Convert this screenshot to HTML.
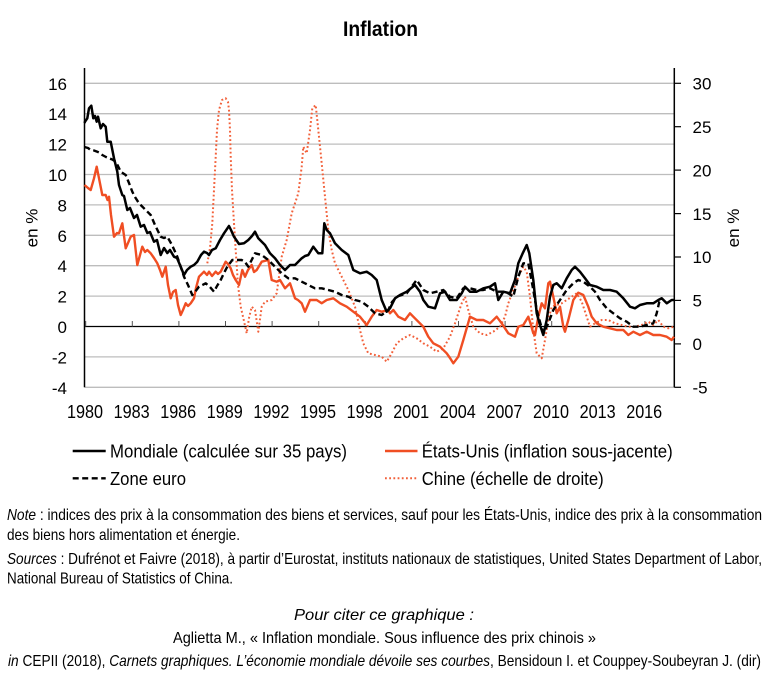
<!DOCTYPE html>
<html>
<head>
<meta charset="utf-8">
<style>
html,body{margin:0;padding:0;background:#fff;}
body{width:767px;height:687px;overflow:hidden;}
svg{display:block;}
text{font-family:"Liberation Sans",Arial,sans-serif;fill:#000;}
</style>
</head>
<body>
<svg width="767" height="687" viewBox="0 0 767 687" xmlns="http://www.w3.org/2000/svg">
<rect width="767" height="687" fill="#fff"/>

<!-- Title -->
<text x="343" y="36" font-size="21" font-weight="bold" textLength="75" lengthAdjust="spacingAndGlyphs">Inflation</text>

<!-- gridlines -->
<g stroke="#bdbdbd" stroke-width="1.3">
<line x1="84.5" y1="83.3" x2="674.3" y2="83.3"/>
<line x1="84.5" y1="113.7" x2="674.3" y2="113.7"/>
<line x1="84.5" y1="144.1" x2="674.3" y2="144.1"/>
<line x1="84.5" y1="174.5" x2="674.3" y2="174.5"/>
<line x1="84.5" y1="204.9" x2="674.3" y2="204.9"/>
<line x1="84.5" y1="235.3" x2="674.3" y2="235.3"/>
<line x1="84.5" y1="265.7" x2="674.3" y2="265.7"/>
<line x1="84.5" y1="296.1" x2="674.3" y2="296.1"/>
<line x1="84.5" y1="356.9" x2="674.3" y2="356.9"/>
<line x1="84.5" y1="387.3" x2="674.3" y2="387.3"/>
</g>

<!-- zero line -->
<line x1="84.5" y1="326.5" x2="674.3" y2="326.5" stroke="#000" stroke-width="1.2"/>
<g stroke="#555" stroke-width="1">
<line x1="85.7" y1="321" x2="85.7" y2="326.5"/>
<line x1="132.3" y1="321" x2="132.3" y2="326.5"/>
<line x1="178.9" y1="321" x2="178.9" y2="326.5"/>
<line x1="225.5" y1="321" x2="225.5" y2="326.5"/>
<line x1="272.1" y1="321" x2="272.1" y2="326.5"/>
<line x1="318.7" y1="321" x2="318.7" y2="326.5"/>
<line x1="365.3" y1="321" x2="365.3" y2="326.5"/>
<line x1="411.9" y1="321" x2="411.9" y2="326.5"/>
<line x1="458.5" y1="321" x2="458.5" y2="326.5"/>
<line x1="505.1" y1="321" x2="505.1" y2="326.5"/>
<line x1="551.7" y1="321" x2="551.7" y2="326.5"/>
<line x1="598.3" y1="321" x2="598.3" y2="326.5"/>
<line x1="644.9" y1="321" x2="644.9" y2="326.5"/>
</g>

<!-- axes -->
<line x1="84.5" y1="68" x2="84.5" y2="387.3" stroke="#000" stroke-width="1.5"/>
<line x1="674.3" y1="68" x2="674.3" y2="387.3" stroke="#000" stroke-width="1.5"/>
<g stroke="#000" stroke-width="1.2">
<line x1="674.3" y1="83.3" x2="681" y2="83.3"/>
<line x1="674.3" y1="126.7" x2="681" y2="126.7"/>
<line x1="674.3" y1="170.1" x2="681" y2="170.1"/>
<line x1="674.3" y1="213.6" x2="681" y2="213.6"/>
<line x1="674.3" y1="257.0" x2="681" y2="257.0"/>
<line x1="674.3" y1="300.4" x2="681" y2="300.4"/>
<line x1="674.3" y1="343.9" x2="681" y2="343.9"/>
<line x1="674.3" y1="387.3" x2="681" y2="387.3"/>
</g>

<!-- left tick labels -->
<g font-size="17" text-anchor="end">
<text x="67" y="89.8">16</text>
<text x="67" y="120.2">14</text>
<text x="67" y="150.6">12</text>
<text x="67" y="181.0">10</text>
<text x="67" y="211.4">8</text>
<text x="67" y="241.8">6</text>
<text x="67" y="272.2">4</text>
<text x="67" y="302.6">2</text>
<text x="67" y="333.0">0</text>
<text x="67" y="363.4">-2</text>
<text x="67" y="393.8">-4</text>
</g>
<!-- right tick labels -->
<g font-size="17">
<text x="692.5" y="89.5">30</text>
<text x="692.5" y="132.9">25</text>
<text x="692.5" y="176.3">20</text>
<text x="692.5" y="219.8">15</text>
<text x="692.5" y="263.2">10</text>
<text x="692.5" y="306.6">5</text>
<text x="692.5" y="350.1">0</text>
<text x="692.5" y="393.5">-5</text>
</g>

<!-- axis titles -->
<text transform="translate(37.5,228) rotate(-90)" font-size="17" text-anchor="middle">en %</text>
<text transform="translate(739,228) rotate(-90)" font-size="17" text-anchor="middle">en %</text>

<!-- year labels -->
<g font-size="18" text-anchor="middle">
<text x="85" y="418" textLength="36" lengthAdjust="spacingAndGlyphs">1980</text>
<text x="131.6" y="418" textLength="36" lengthAdjust="spacingAndGlyphs">1983</text>
<text x="178.2" y="418" textLength="36" lengthAdjust="spacingAndGlyphs">1986</text>
<text x="224.8" y="418" textLength="36" lengthAdjust="spacingAndGlyphs">1989</text>
<text x="271.4" y="418" textLength="36" lengthAdjust="spacingAndGlyphs">1992</text>
<text x="318" y="418" textLength="36" lengthAdjust="spacingAndGlyphs">1995</text>
<text x="364.6" y="418" textLength="36" lengthAdjust="spacingAndGlyphs">1998</text>
<text x="411.2" y="418" textLength="36" lengthAdjust="spacingAndGlyphs">2001</text>
<text x="457.8" y="418" textLength="36" lengthAdjust="spacingAndGlyphs">2004</text>
<text x="504.4" y="418" textLength="36" lengthAdjust="spacingAndGlyphs">2007</text>
<text x="551" y="418" textLength="36" lengthAdjust="spacingAndGlyphs">2010</text>
<text x="597.6" y="418" textLength="36" lengthAdjust="spacingAndGlyphs">2013</text>
<text x="644.2" y="418" textLength="36" lengthAdjust="spacingAndGlyphs">2016</text>
</g>

<!-- China dotted (right axis) -->
<polyline fill="none" stroke="#f2603a" stroke-width="2" stroke-dasharray="1.8,2.4" stroke-linejoin="round"
points="207.3,263.3 210,248 212.3,223.3 214,190 215.7,156.7 217,130 219,110 222,100 225.7,98.3 228,102 229,110 230,130 230.7,156.7 232,190 234,223.3 236,255 238,285 240.7,306.7 243.3,318 246.7,333.3 249,318 251.7,306.7 255,310 258.3,331.7 261.7,306.7 265,301.7 271.7,300 276.7,293.3 281.7,256.7 286.7,240 291.7,213.3 295,203.3 298.3,193.3 301.7,166.7 303.3,146.7 306.7,153.3 310,130 312.3,108.3 315.7,105 318.3,130 321.7,163.3 325,196.7 328.3,230 331.7,250 335,263.3 341.7,276.7 348.3,290 355,306.7 360,330 363.3,343.3 368.3,353.3 375,355 381.7,356.7 386.7,361.7 391.7,353.3 396.7,343.3 403.3,338.3 410,335 416.7,338.3 423.3,343.3 430,346.7 436.7,351.7 443.3,348.3 450,336.7 455,323.3 458.3,313.3 461.7,303.3 465,296.7 468.3,310 473.3,326.7 480,333.3 486.7,335 493.3,331.7 500,326.7 505,316.7 508.3,303.3 513.3,290 518.3,276.7 523.3,266.7 526.7,271.7 530,296.7 533.3,330 536.7,353.3 541.7,358.3 545,340 548.3,320 551.7,306.7 556.7,305 561.7,303.3 566.7,300 571.7,296.7 576.7,293.3 581.7,301.7 586.7,316.7 590,326.7 595,323.3 601.7,320 608.3,320 615,323.3 621.7,325 628.3,326.7 635,326.7 641.7,325 648.3,321.7 653.3,325 658.3,320 663.3,326.7 668.3,328.3 674,326.7"/>

<!-- US solid red -->
<polyline fill="none" stroke="#f04e23" stroke-width="2.4" stroke-linejoin="round"
points="84.5,185 88,188 90.7,190 94,178.3 96.7,166.7 99,178.3 102.3,195 105.7,195 107.5,200 109,196.7 111,215 114,236.7 117,233 119,233.3 122.3,223.3 125.7,248.3 128,243 130.7,236.7 134,235 137.3,265 140,255 142.3,246.7 145,252 147.3,250 150.7,253.3 154,258 157.3,263.3 160,270 162.3,276.7 165.7,266.7 168,285 170.7,298.3 173,292 175.7,290 178,305 180.7,315 183,310 185.7,303.3 188,306 190.7,303.3 194,298.3 196,288 199,276.7 204,271.7 207,275 209,271.7 212,276 215.7,271.7 218,274 220.7,271.7 225.7,261.7 228,264 230.7,268.3 233,275 235.7,280 239,285 242.3,270 245,276.7 248,270 251.7,265 254,272 256.7,270 261.7,261.7 268.3,260 271.7,280 276.7,281.7 280,280 285,288.3 290,283.3 295,298.3 298,300 301.7,303.3 305,311.7 310,300 316.7,300 321.7,303.3 326.7,300 333.3,298.3 340,303.3 346.7,306.7 353.3,311.7 360,316.7 366.7,325 371.7,316.7 376.7,310 381.7,311.7 388.3,310 390,313.3 393.3,310 398.3,316.7 405,320 410,313.3 413.3,316.7 418.3,321.7 423.3,326.7 428.3,336.7 433.3,343.3 440,346.7 446.7,353.3 450,358 453.3,363.3 458.3,356.7 463.3,340 470,316.7 476.7,320 483.3,320 490,323.3 496.7,316.7 501.7,323.3 508.3,333.3 515,336.7 518.3,326.7 523.3,325 528.3,316.7 531,325 533.3,333.3 535,335 538.3,316.7 541.7,303.3 545,308.3 548.3,283.3 550,281.7 553.3,296.7 556.7,313.3 560,306.7 563.3,326.7 565,331.7 568.3,320 573.3,300 578.3,292.7 583.3,295 588.3,306.7 591.7,316.7 596.7,323.3 603.3,326.7 610,328.3 616.7,330 623.3,330 628.3,335 633.3,331.7 640,335 646.7,331.7 653.3,335 660,335 666.7,336.7 671.7,340 674,336.7"/>

<!-- Zone euro dashed -->
<polyline fill="none" stroke="#000" stroke-width="2.4" stroke-dasharray="6,3.5" stroke-linejoin="round"
points="84.5,147 88,148 90.7,150 94,150.5 97.3,151.7 100,153 102.3,155 106,157 109,158.3 112.3,159.5 115.7,161.7 118,166 120.7,171.7 125.7,175 129,183 132.3,191.7 135,197 139,203.3 144,208.3 150.7,215 155,225 160.7,236.7 164,238 167.3,236.7 172,245 177.3,256.7 184,276.7 188,285 192.3,295 195,292 199,286.7 205.7,283.3 210,287 214,291.7 217,286 220.7,280 224,273 227.3,266.7 232.3,260 236,260 241.7,260 245,262 248.3,266.7 255,253.3 261.7,255 268.3,260 275,266.7 281.7,273.3 288.3,278.3 295,278.3 301.7,281.7 308.3,285 315,288.3 321.7,288.3 328.3,290 335,291.7 341.7,295 348.3,296.7 355,300 361.7,301.7 368.3,306.7 375,313.3 381.7,315 388.3,310 392,302 396.7,296.7 406.7,293.3 416.7,280 423.3,290 430,293.3 436.7,291.7 443.3,290 450,296.7 456.7,298.3 463.3,288.3 470,288.3 476.7,290 483.3,290 490,288.3 496.7,291.7 503.3,291.7 508.3,293.3 513.3,296.7 518.3,276.7 523.3,263.3 528.3,263.3 532.7,286.7 536.7,310 540,322 543.3,333.3 548.3,323.3 553.3,310 560,300 566.7,290 573.3,283.3 578.3,280 583.3,281.7 590,286.7 595,291.7 600,300 606.7,308.3 613.3,313.3 620,318.3 626.7,321.7 633.3,326.7 640,326.7 646.7,325 653.3,323.3 656.7,313.3 659.3,301.7 661.7,300"/>

<!-- Mondiale solid black -->
<polyline fill="none" stroke="#000" stroke-width="2.5" stroke-linejoin="round"
points="84.5,123 85,121.7 87.3,118.3 89,108.3 91.3,105.7 93.3,118.3 95,116 96.7,121.7 98,116.7 100.7,128.3 103,124 105.7,126.7 107.3,141.7 110.7,141.7 114,158.3 117.3,171.7 119,185 122.3,195 124,196 127.3,210 130,208 134,218 137,215 140.7,226.7 144,225 147.3,233 150,232 154,241.7 157,240 160.7,255 164,248 167.3,253 170,250 174,256.7 177,258 180.7,266.7 184,275 187,270 190.7,266.7 194,265 197.3,261.7 201,255 204,251.7 207,253 209,255 212,250 215.7,248.3 220,240 224,233.3 229,226 231,230 234,236.7 239,244 244,243.3 248.3,240 252,236 255,231.7 258.3,238.3 262,242 265,245 270,253.3 275,258.3 280,265 285,270 290,265 295,265 298,262 301.7,258.3 305,256 308.3,255 313.3,246.7 318.3,253.3 322.3,253.3 324.3,223.3 326.7,230 330,233.3 335,243.3 341.7,250 348.3,255 353.3,270 360,273.3 366.7,271.7 371.7,275 376.7,280 381.7,300 386.7,311.7 390,308.3 395,298.3 400,295 406.7,291.7 415,285 420,291.7 423.3,300 428.3,306.7 435,308.3 440,293.3 445,291.7 450,300 456.7,300 461.7,293.3 465,286.7 470,291.7 476.7,291.7 483.3,288.3 490,286.7 495,283.3 498.3,300 503.3,291.7 510,293.3 515,280 518.3,263.3 522.7,253.3 526.7,245 529.3,253.3 533.3,280 536.7,313.3 540,325 543.3,335 546.7,320 550,296.7 553.3,285 556.7,283.3 561.7,288.3 566.7,278.3 571.7,270 575,266.7 580,271.7 585,278.3 590,285 596.7,286.7 603.3,290 610,290 616.7,291.7 623.3,298.3 630,306.7 635,308.3 640,305 646.7,303.3 653.3,303.3 658.3,300 661.7,298.3 666.7,303.3 671.7,300 674,300"/>

<!-- Legend -->
<line x1="72.7" y1="451" x2="105.7" y2="451" stroke="#000" stroke-width="2.5"/>
<line x1="72.7" y1="478.3" x2="105.7" y2="478.3" stroke="#000" stroke-width="2.4" stroke-dasharray="6,3.5"/>
<line x1="385" y1="451" x2="417.5" y2="451" stroke="#f04e23" stroke-width="2.4"/>
<line x1="385" y1="478.3" x2="417.5" y2="478.3" stroke="#f2603a" stroke-width="2" stroke-dasharray="1.8,2.4"/>
<g font-size="18">
<text x="110" y="457.3" textLength="237" lengthAdjust="spacingAndGlyphs">Mondiale (calculée sur 35 pays)</text>
<text x="110" y="485" textLength="76" lengthAdjust="spacingAndGlyphs">Zone euro</text>
<text x="421.7" y="457.3" textLength="251" lengthAdjust="spacingAndGlyphs">États-Unis (inflation sous-jacente)</text>
<text x="421.7" y="485" textLength="182" lengthAdjust="spacingAndGlyphs">Chine (échelle de droite)</text>
</g>

<!-- Notes -->
<g font-size="16">
<text x="7" y="520" textLength="755" lengthAdjust="spacingAndGlyphs"><tspan font-style="italic">Note</tspan> : indices des prix à la consommation des biens et services, sauf pour les États-Unis, indice des prix à la consommation</text>
<text x="7" y="540" textLength="233" lengthAdjust="spacingAndGlyphs">des biens hors alimentation et énergie.</text>
<text x="7" y="564" textLength="755" lengthAdjust="spacingAndGlyphs"><tspan font-style="italic">Sources</tspan> : Dufrénot et Faivre (2018), à partir d’Eurostat, instituts nationaux de statistiques, United States Department of Labor,</text>
<text x="7" y="583.5" textLength="226" lengthAdjust="spacingAndGlyphs">National Bureau of Statistics of China.</text>
<text x="294" y="620" textLength="180" lengthAdjust="spacingAndGlyphs" font-style="italic">Pour citer ce graphique :</text>
<text x="173" y="643" textLength="423" lengthAdjust="spacingAndGlyphs">Aglietta M., « Inflation mondiale. Sous influence des prix chinois »</text>
<text x="8" y="666" textLength="753" lengthAdjust="spacingAndGlyphs"><tspan font-style="italic">in</tspan> CEPII (2018), <tspan font-style="italic">Carnets graphiques. L’économie mondiale dévoile ses courbes</tspan>, Bensidoun I. et Couppey-Soubeyran J. (dir)</text>
</g>
</svg>
</body>
</html>
